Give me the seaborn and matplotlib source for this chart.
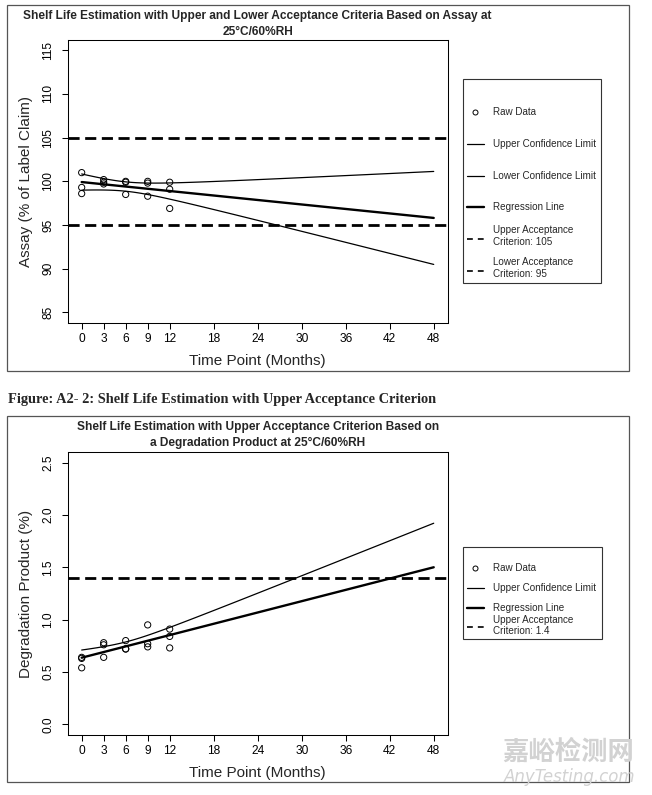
import numpy as np
import pandas as pd
import matplotlib
matplotlib.use("Agg")
import matplotlib.pyplot as plt
from matplotlib.lines import Line2D
from matplotlib.patches import Rectangle
import seaborn as sns

# raw stability data (3 batches per pull point)
months = [0, 0, 0, 3, 3, 3, 6, 6, 6, 9, 9, 9, 12, 12, 12]
assay = [101.0, 99.3, 98.6, 100.2, 99.9, 99.7, 100.0, 99.9, 98.5,
         100.0, 99.8, 98.3, 99.9, 99.1, 96.9]
degradation = [0.64, 0.63, 0.54, 0.78, 0.76, 0.64, 0.80, 0.72, 0.72,
               0.95, 0.77, 0.74, 0.91, 0.84, 0.73]

assay_upper_limit = 105
assay_lower_limit = 95
deg_upper_limit = 1.4

x_ticks = [0, 3, 6, 9, 12, 18, 24, 30, 36, 42, 48]
assay_ticks = [85, 90, 95, 100, 105, 110, 115]
deg_ticks = [0.0, 0.5, 1.0, 1.5, 2.0, 2.5]

T_CRIT = 2.160  # t(0.975, df=13)
SHELF_END = 48

sns.set_style("ticks")
plt.rcParams["font.family"] = ["Liberation Sans", "DejaVu Sans"]
plt.rcParams["axes.linewidth"] = 0.75

W, H = 652, 795
fig = plt.figure(figsize=(W / 100, H / 100), dpi=100)


def fx(x):
    return x / W


def fy(y):
    return 1 - y / H


def fit_with_ci(t, y):
    t = np.asarray(t, float)
    y = np.asarray(y, float)
    slope, icpt = np.polyfit(t, y, 1)
    resid = y - (icpt + slope * t)
    n = len(t)
    s = np.sqrt(np.sum(resid ** 2) / (n - 2))
    sxx = np.sum((t - t.mean()) ** 2)
    grid = np.linspace(0, SHELF_END, 97)
    fit = icpt + slope * grid
    se = s * np.sqrt(1 / n + (grid - t.mean()) ** 2 / sxx)
    return pd.DataFrame({"month": grid, "fit": fit,
                         "lcl": fit - T_CRIT * se, "ucl": fit + T_CRIT * se})


def draw_panel(ax, y, lower_limit, upper_limit, ylim, yticks, ylabel, fmt, show_lcl):
    df = pd.DataFrame({"month": months, "value": y})
    lines = fit_with_ci(months, y)
    sns.lineplot(data=lines, x="month", y="ucl", ax=ax, color="black", lw=0.9)
    if show_lcl:
        sns.lineplot(data=lines, x="month", y="lcl", ax=ax, color="black", lw=0.9)
    sns.lineplot(data=lines, x="month", y="fit", ax=ax, color="black", lw=1.7)
    sns.scatterplot(data=df, x="month", y="value", ax=ax, marker="o", s=20,
                    facecolor="none", edgecolor="black", linewidth=0.7, zorder=5)
    ax.axhline(upper_limit, color="black", lw=2, ls=(0, (4, 2)))
    if lower_limit is not None:
        ax.axhline(lower_limit, color="black", lw=2, ls=(0, (4, 2)))
    ax.set_xlim(-1.92, 49.92)
    ax.set_ylim(*ylim)
    ax.set_xticks(x_ticks)
    ax.set_yticks(yticks)
    ax.set_yticklabels([fmt.format(v) for v in yticks])
    ax.tick_params(axis="both", direction="out", length=4.3, width=0.75,
                   labelsize=8.6, colors="black")
    ax.tick_params(axis="x", pad=3.2)
    ax.tick_params(axis="y", pad=5.2)
    plt.setp(ax.get_yticklabels(), rotation=90, va="center")
    for sp in ax.spines.values():
        sp.set_visible(True)
        sp.set_color("black")
    ax.set_xlabel("Time Point (Months)", fontsize=11)
    ax.set_ylabel(ylabel, fontsize=11)
    ax.xaxis.set_label_coords(0.5, -0.11)
    ax.yaxis.set_label_coords(-0.092, 0.5)


def draw_frame(y_top, y_bottom):
    fig.add_artist(Rectangle((fx(7.3), fy(y_bottom)), (629 - 7.3) / W,
                             (y_bottom - y_top) / H, transform=fig.transFigure,
                             fill=False, ec="#555555", lw=0.9))


handle_styles = {
    "points": dict(marker="o", mfc="none", mec="black", ms=3.6, mew=0.7, ls="none"),
    "thin": dict(color="black", lw=0.9),
    "thick": dict(color="black", lw=1.7),
    "dash": dict(color="black", lw=1.2, ls=(0, (3.5, 3))),
}


def draw_legend(box, first_y, step, entries, text_shift):
    x0, y0, x1, y1 = box
    fig.add_artist(Rectangle((fx(x0), fy(y1)), (x1 - x0) / W, (y1 - y0) / H,
                             transform=fig.transFigure, fill=False,
                             ec="#333333", lw=0.8))
    for i, (kind, label) in enumerate(entries):
        yy = first_y + i * step
        if kind == "points":
            xs = [fx(475.5)]
            ys = [fy(yy)]
        else:
            xs = [fx(466.7), fx(484.3)]
            ys = [fy(yy), fy(yy)]
        fig.add_artist(Line2D(xs, ys, transform=fig.transFigure, **handle_styles[kind]))
        ty = yy - text_shift if "\n" in label else yy
        fig.text(fx(493.3), fy(ty), label, ha="left", va="center",
                 fontsize=7.1, linespacing=1.2)


# ---- panel 1: assay ----
draw_frame(4.7, 370.7)
ax1 = fig.add_axes([fx(67.6), fy(322.9), 380.2 / W, 283.1 / H])
draw_panel(ax1, assay, assay_lower_limit, assay_upper_limit, (83.8, 116.2),
           assay_ticks, "Assay (% of Label Claim)", "{:d}", True)
fig.text(fx(257.7), fy(15.7),
         "Shelf Life Estimation with Upper and Lower Acceptance Criteria Based on Assay at",
         ha="center", va="center", fontsize=8.6, fontweight="bold")
fig.text(fx(257.7), fy(31.7), "25°C/60%RH", ha="center", va="center",
         fontsize=8.6, fontweight="bold")
draw_legend((463.3, 79.3, 601, 283.3), 112.3, 31.7, [
    ("points", "Raw Data"),
    ("thin", "Upper Confidence Limit"),
    ("thin", "Lower Confidence Limit"),
    ("thick", "Regression Line"),
    ("dash", "Upper Acceptance\nCriterion: {}".format(assay_upper_limit)),
    ("dash", "Lower Acceptance\nCriterion: {}".format(assay_lower_limit)),
], 3)

# caption between panels
fig.text(fx(8), fy(399), "Figure: A2- 2: Shelf Life Estimation with Upper Acceptance Criterion",
         ha="left", va="center", fontsize=10.4, fontweight="bold",
         family=["Liberation Serif", "DejaVu Serif"])

# ---- panel 2: degradation product ----
draw_frame(416, 781.7)
ax2 = fig.add_axes([fx(67.6), fy(734.8), 380.2 / W, 282.6 / H])
draw_panel(ax2, degradation, None, deg_upper_limit, (-0.1, 2.6),
           deg_ticks, "Degradation Product (%)", "{:.1f}", False)
fig.text(fx(257.7), fy(427),
         "Shelf Life Estimation with Upper Acceptance Criterion Based on",
         ha="center", va="center", fontsize=8.6, fontweight="bold")
fig.text(fx(257.7), fy(443), "a Degradation Product at 25°C/60%RH",
         ha="center", va="center", fontsize=8.6, fontweight="bold")
draw_legend((463.3, 547.3, 601.7, 639), 568.3, 19.7, [
    ("points", "Raw Data"),
    ("thin", "Upper Confidence Limit"),
    ("thick", "Regression Line"),
    ("dash", "Upper Acceptance\nCriterion: {}".format(deg_upper_limit)),
], 2)

# watermark
fig.text(fx(568), fy(752), "嘉峪检测网", ha="center", va="center", fontsize=19,
         fontweight="bold", color="#d2d2d2", family=["Noto Sans CJK SC", "DejaVu Sans"])
fig.text(fx(570), fy(777), "AnyTesting.com", ha="center", va="center", fontsize=12,
         style="italic", color="#d2d2d2", family=["DejaVu Sans"])

fig.savefig("out.png", dpi=100)
